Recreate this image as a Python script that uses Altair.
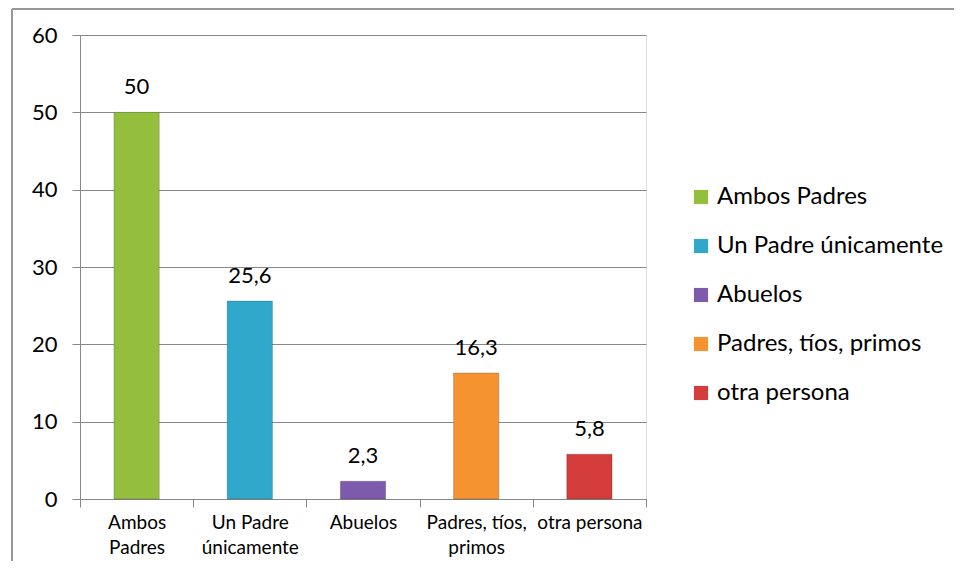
import altair as alt
import pandas as pd

categories = ["Ambos Padres", "Un Padre únicamente", "Abuelos", "Padres, tíos, primos", "otra persona"]
values = [50, 25.6, 2.3, 16.3, 5.8]
value_labels = ["50", "25,6", "2,3", "16,3", "5,8"]
axis_label_lines = [["Ambos", "Padres"], ["Un Padre", "únicamente"], ["Abuelos"], ["Padres, tíos,", "primos"], ["otra persona"]]
colors = ["#93bf3c", "#2fa8cb", "#7d5aab", "#f59330", "#d43b3b"]
y_ticks = [0, 10, 20, 30, 40, 50, 60]

df = pd.DataFrame({"cat": categories, "val": values, "lab": value_labels})

FONT = "Lato"

expr_parts = []
for c, lines in zip(categories, axis_label_lines):
    arr = "[" + ",".join("'" + l + "'" for l in lines) + "]"
    expr_parts.append(f"datum.label == '{c}' ? {arr} : ")
label_expr = "".join(expr_parts) + "datum.label"

x_enc = alt.X(
    "cat:N",
    sort=categories,
    title=None,
    scale=alt.Scale(paddingInner=0, paddingOuter=0),
    axis=alt.Axis(
        labelAngle=0,
        labelExpr=label_expr,
        labelFont=FONT,
        labelFontSize=19,
        labelColor="#000000",
        labelPadding=6,
        labelLineHeight=25,
        tickBand="extent",
        tickSize=8,
        tickColor="#888888",
        domainColor="#888888",
        grid=False,
    ),
)
y_enc = alt.Y(
    "val:Q",
    title=None,
    scale=alt.Scale(domain=[0, 60]),
    axis=alt.Axis(
        values=y_ticks,
        labelFont=FONT,
        labelFontSize=22,
        labelColor="#000000",
        labelPadding=15,
        tickSize=8,
        tickColor="#888888",
        domainColor="#888888",
        gridColor="#888888",
        gridWidth=1,
    ),
)

bars = alt.Chart(df).mark_bar(
    width=alt.RelativeBandSize(0.4), stroke="#00000030", strokeWidth=1
).encode(
    x=x_enc,
    y=y_enc,
    color=alt.Color(
        "cat:N",
        sort=categories,
        scale=alt.Scale(domain=categories, range=colors),
        legend=alt.Legend(
            title=None,
            orient="none",
            legendX=609,
            legendY=150,
            symbolType="square",
            symbolSize=200,
            symbolStrokeWidth=0,
            labelFont=FONT,
            labelFontSize=24,
            labelColor="#000000",
            labelOffset=4,
            rowPadding=25,
            labelLimit=400,
        ),
    ),
)

texts = alt.Chart(df).mark_text(
    baseline="bottom", dy=-13, font=FONT, fontSize=22, color="#000000"
).encode(
    x=alt.X("cat:N", sort=categories),
    y="val:Q",
    text="lab:N",
)

border_left = alt.Chart(df).mark_rule(color="#999999", strokeWidth=1.5).encode(
    x=alt.value(-68), y=alt.value(-26), y2=alt.value(540)
)
border_top = alt.Chart(df).mark_rule(color="#999999", strokeWidth=1.5).encode(
    x=alt.value(-68), x2=alt.value(874), y=alt.value(-26)
)

chart = (
    alt.layer(bars, texts, border_left, border_top)
    .properties(
        width=566,
        height=464,
        autosize=alt.AutoSizeParams(type="none"),
        padding={"left": 72, "top": 27, "right": 308, "bottom": 62},
    )
    .configure_view(stroke=None)
    .configure(background="white")
)

chart.save("out.html", embed_options={"renderer": "svg", "actions": False})
